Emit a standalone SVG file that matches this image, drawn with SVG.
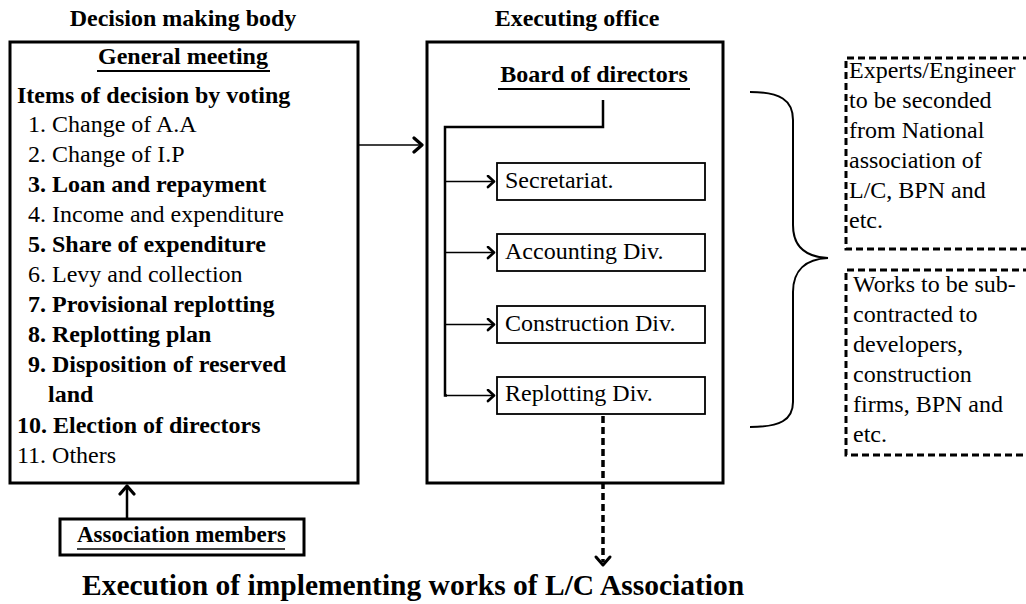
<svg xmlns="http://www.w3.org/2000/svg" width="1026" height="604" viewBox="0 0 1026 604">
  <style>
    text { font-family: "Liberation Serif", "Times New Roman", serif; fill: #000; font-size: 24px; }
    .b { font-weight: bold; }
    .s23 { font-size: 23px; }
    .title { font-size: 29.5px; font-weight: bold; }
    .frame { fill: none; stroke: #000; stroke-width: 3; }
    .div { fill: none; stroke: #000; stroke-width: 1.8; }
    .uline { stroke: #000; stroke-width: 2; }
    .dash { fill: none; stroke: #000; stroke-width: 3; stroke-dasharray: 7 4; }
    .wire { fill: none; stroke: #000; stroke-width: 2.5; }
    .thin { fill: none; stroke: #000; stroke-width: 1.6; }
    .head { fill: none; stroke: #000; stroke-width: 3; stroke-linecap: round; stroke-linejoin: round; }
  </style>
  <defs>
    <marker id="chev" markerUnits="userSpaceOnUse" viewBox="0 0 10 14" refX="8" refY="7" markerWidth="10" markerHeight="14" orient="auto">
      <path d="M2,1.5 L8,7 L2,12.5" fill="none" stroke="#000" stroke-width="2.6" stroke-linecap="round" stroke-linejoin="round"/>
    </marker>
    <marker id="chev-big" markerUnits="userSpaceOnUse" viewBox="0 0 12 18" refX="10" refY="9" markerWidth="12" markerHeight="18" orient="auto">
      <path d="M2,2 L10,9 L2,16" fill="none" stroke="#000" stroke-width="3.2" stroke-linecap="round" stroke-linejoin="round"/>
    </marker>
  </defs>

  <rect width="1026" height="604" fill="#fff"/>

  <!-- column headings -->
  <g id="heading-decision">
    <text class="b" x="183" y="26" text-anchor="middle">Decision making body</text>
  </g>
  <g id="heading-executing">
    <text class="b" x="577" y="26" text-anchor="middle">Executing office</text>
  </g>

  <!-- general meeting -->
  <g id="general-meeting">
    <rect class="frame" x="10" y="42" width="348" height="441"/>
    <text class="b" x="183" y="64" text-anchor="middle">General meeting</text>
    <line class="uline" x1="97" y1="71" x2="270" y2="71"/>
    <text class="b" x="17" y="103">Items of decision by voting</text>
    <text x="28" y="132">1. Change of A.A</text>
    <text x="28" y="162">2. Change of I.P</text>
    <text class="b" x="28" y="192">3. Loan and repayment</text>
    <text x="28" y="222">4. Income and expenditure</text>
    <text class="b" x="28" y="252">5. Share of expenditure</text>
    <text x="28" y="282">6. Levy and collection</text>
    <text class="b" x="28" y="312">7. Provisional replotting</text>
    <text class="b" x="28" y="342">8. Replotting plan</text>
    <text class="b" x="28" y="372">9. Disposition of reserved</text>
    <text class="b" x="48" y="402">land</text>
    <text class="b" x="17" y="433">10. Election of directors</text>
    <text x="17" y="463">11. Others</text>
  </g>

  <!-- association members -->
  <g id="association-members">
    <rect class="frame" x="60" y="519" width="244" height="36"/>
    <text class="b s23" x="77" y="542">Association members</text>
    <line x1="77" y1="549" x2="285" y2="549" stroke="#000" stroke-width="1.5"/>
  </g>

  <!-- executing office -->
  <g id="executing-office">
    <rect class="frame" x="427" y="42" width="296" height="441"/>
    <text class="b" x="594" y="82" text-anchor="middle">Board of directors</text>
    <line class="uline" x1="498" y1="89" x2="690" y2="89"/>
  </g>

  <g id="secretariat">
    <rect class="div" x="497" y="163" width="208" height="37"/>
    <text x="505" y="188">Secretariat.</text>
  </g>
  <g id="accounting-div">
    <rect class="div" x="497" y="234" width="208" height="37"/>
    <text x="505" y="259">Accounting Div.</text>
  </g>
  <g id="construction-div">
    <rect class="div" x="497" y="306" width="208" height="37"/>
    <text x="505" y="331">Construction Div.</text>
  </g>
  <g id="replotting-div">
    <rect class="div" x="497" y="377" width="208" height="37"/>
    <text x="505" y="401">Replotting Div.</text>
  </g>

  <!-- outside support -->
  <g id="experts">
    <path class="dash" d="M1030,58 H846 V249 H1030"/>
    <text x="849" y="78">Experts/Engineer</text>
    <text x="849" y="108">to be seconded</text>
    <text x="849" y="138">from National</text>
    <text x="849" y="168">association of</text>
    <text x="849" y="198">L/C, BPN and</text>
    <text x="849" y="228">etc.</text>
  </g>
  <g id="subcontract">
    <path class="dash" d="M1030,270 H846 V455 H1030"/>
    <text x="853" y="292">Works to be sub-</text>
    <text x="853" y="322">contracted to</text>
    <text x="853" y="352">developers,</text>
    <text x="853" y="382">construction</text>
    <text x="853" y="412">firms, BPN and</text>
    <text x="853" y="442">etc.</text>
  </g>

  <!-- result -->
  <g id="execution">
    <text class="title" x="82" y="595">Execution of implementing works of L/C Association</text>
  </g>

  <!-- connectors -->
  <g id="connectors">
    <!-- meeting decisions go to the office -->
    <line class="thin" x1="358" y1="145" x2="422" y2="145" marker-end="url(#chev-big)"/>
    <!-- members elect the meeting -->
    <line class="wire" x1="127" y1="519" x2="127" y2="486" marker-end="url(#chev-big)"/>
    <!-- board to divisions -->
    <path class="wire" d="M603,100 V127 H445 V395.5 H447"/>
    <line class="thin" x1="445" y1="181.5" x2="494" y2="181.5" marker-end="url(#chev)"/>
    <line class="thin" x1="445" y1="252.5" x2="494" y2="252.5" marker-end="url(#chev)"/>
    <line class="thin" x1="445" y1="324.5" x2="494" y2="324.5" marker-end="url(#chev)"/>
    <line class="thin" x1="445" y1="395.5" x2="494" y2="395.5" marker-end="url(#chev)"/>
    <!-- replotting leads to execution -->
    <line x1="603" y1="416" x2="603" y2="562" stroke="#000" stroke-width="3.5" stroke-dasharray="7 4"/>
    <path class="head" d="M596,557 L603,565 L610,557"/>
    <!-- brace grouping outside support -->
    <path fill="none" stroke="#000" stroke-width="2" d="M750,92 C780,92 793,100 793,120 L793,225 C793,247 806,257 828,258 C806,259 793,270 793,292 L793,402 C793,420 780,427 750,427"/>
  </g>
</svg>
